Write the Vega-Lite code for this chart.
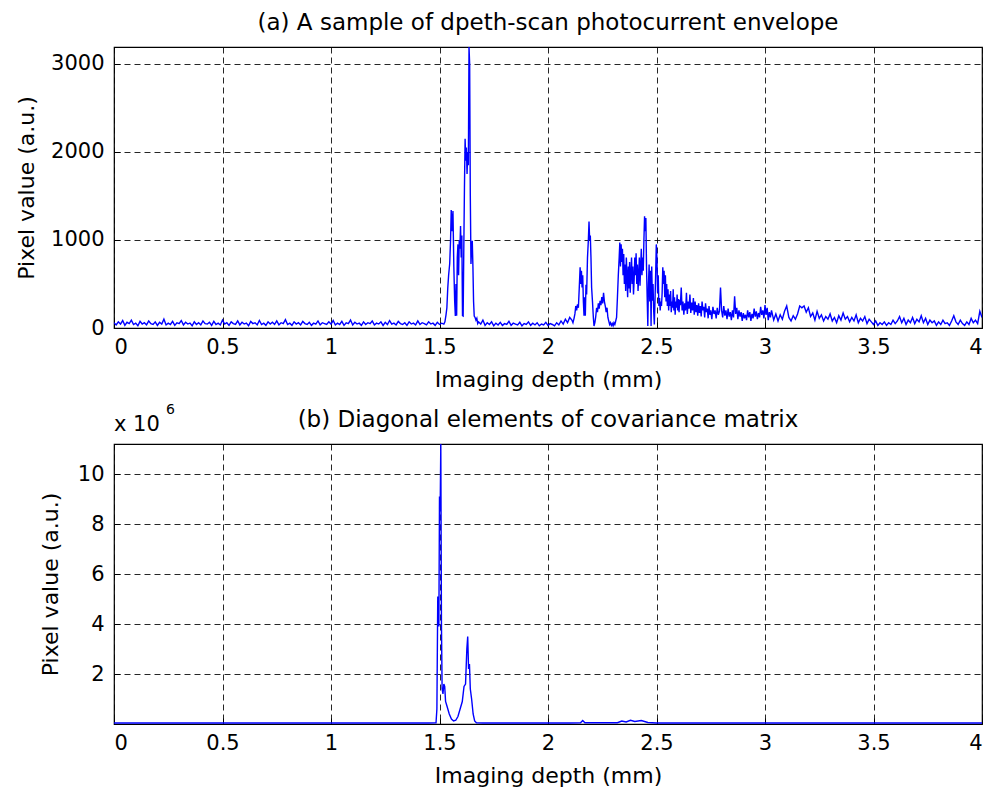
{
 "$schema": "https://vega.github.io/schema/vega-lite/v6.json",
 "padding": {"left": 14, "top": 11, "right": 5, "bottom": 5},
 "background": "white",
 "config": {
  "font": "DejaVu Sans",
  "view": {"stroke": "#000", "strokeWidth": 1.2},
  "axis": {
   "grid": true, "gridColor": "#000", "gridDash": [6, 4], "gridWidth": 1, "gridOpacity": 0.85,
   "ticks": true, "tickSize": -6, "tickColor": "#000", "tickWidth": 1, "domain": false,
   "labelFontSize": 21, "labelColor": "#000", "labelPadding": 16, "labelFont": "DejaVu Sans",
   "titleFontSize": 22, "titleFontWeight": "normal", "titleColor": "#000", "titlePadding": 9, "titleFont": "DejaVu Sans"
  },
  "title": {"fontSize": 23, "fontWeight": "normal", "color": "#000", "font": "DejaVu Sans", "offset": 12, "frame": "group"}
 },
 "spacing": 11,
 "datasets": {
  "env": [
   {"depth":0.00,"value":60},{"depth":0.01,"value":35},{"depth":0.02,"value":70},{"depth":0.03,"value":45},{"depth":0.04,"value":85},{"depth":0.05,"value":30},{"depth":0.06,"value":65},{"depth":0.07,"value":50},{"depth":0.08,"value":90},{"depth":0.09,"value":40},
   {"depth":0.10,"value":55},{"depth":0.11,"value":25},{"depth":0.12,"value":75},{"depth":0.13,"value":45},{"depth":0.14,"value":60},{"depth":0.15,"value":35},{"depth":0.16,"value":80},{"depth":0.17,"value":50},{"depth":0.18,"value":40},{"depth":0.19,"value":70},
   {"depth":0.20,"value":30},{"depth":0.21,"value":65},{"depth":0.22,"value":45},{"depth":0.23,"value":100},{"depth":0.24,"value":35},{"depth":0.25,"value":55},{"depth":0.26,"value":40},{"depth":0.27,"value":75},{"depth":0.28,"value":30},{"depth":0.29,"value":60},
   {"depth":0.30,"value":50},{"depth":0.31,"value":85},{"depth":0.32,"value":35},{"depth":0.33,"value":65},{"depth":0.34,"value":45},{"depth":0.35,"value":55},{"depth":0.36,"value":25},{"depth":0.37,"value":70},{"depth":0.38,"value":40},{"depth":0.39,"value":60},
   {"depth":0.40,"value":35},{"depth":0.41,"value":80},{"depth":0.42,"value":50},{"depth":0.43,"value":45},{"depth":0.44,"value":65},{"depth":0.45,"value":30},{"depth":0.46,"value":75},{"depth":0.47,"value":40},{"depth":0.48,"value":55},{"depth":0.49,"value":35},
   {"depth":0.50,"value":90},{"depth":0.51,"value":45},{"depth":0.52,"value":60},{"depth":0.53,"value":30},{"depth":0.54,"value":70},{"depth":0.55,"value":50},{"depth":0.56,"value":40},{"depth":0.57,"value":80},{"depth":0.58,"value":35},{"depth":0.59,"value":65},
   {"depth":0.60,"value":45},{"depth":0.61,"value":55},{"depth":0.62,"value":25},{"depth":0.63,"value":75},{"depth":0.64,"value":50},{"depth":0.65,"value":60},{"depth":0.66,"value":35},{"depth":0.67,"value":85},{"depth":0.68,"value":40},{"depth":0.69,"value":55},
   {"depth":0.70,"value":30},{"depth":0.71,"value":70},{"depth":0.72,"value":45},{"depth":0.73,"value":65},{"depth":0.74,"value":40},{"depth":0.75,"value":80},{"depth":0.76,"value":35},{"depth":0.77,"value":60},{"depth":0.78,"value":50},{"depth":0.79,"value":95},
   {"depth":0.80,"value":40},{"depth":0.81,"value":55},{"depth":0.82,"value":30},{"depth":0.83,"value":70},{"depth":0.84,"value":45},{"depth":0.85,"value":60},{"depth":0.86,"value":35},{"depth":0.87,"value":75},{"depth":0.88,"value":50},{"depth":0.89,"value":40},
   {"depth":0.90,"value":65},{"depth":0.91,"value":30},{"depth":0.92,"value":55},{"depth":0.93,"value":45},{"depth":0.94,"value":80},{"depth":0.95,"value":35},{"depth":0.96,"value":60},{"depth":0.97,"value":50},{"depth":0.98,"value":40},{"depth":0.99,"value":70},
   {"depth":1.00,"value":45},{"depth":1.01,"value":85},{"depth":1.02,"value":35},{"depth":1.03,"value":55},{"depth":1.04,"value":40},{"depth":1.05,"value":75},{"depth":1.06,"value":30},{"depth":1.07,"value":60},{"depth":1.08,"value":50},{"depth":1.09,"value":90},
   {"depth":1.10,"value":35},{"depth":1.11,"value":65},{"depth":1.12,"value":45},{"depth":1.13,"value":55},{"depth":1.14,"value":30},{"depth":1.15,"value":70},{"depth":1.16,"value":40},{"depth":1.17,"value":60},{"depth":1.18,"value":50},{"depth":1.19,"value":80},
   {"depth":1.20,"value":35},{"depth":1.21,"value":55},{"depth":1.22,"value":45},{"depth":1.23,"value":70},{"depth":1.24,"value":30},{"depth":1.25,"value":65},{"depth":1.26,"value":40},{"depth":1.27,"value":85},{"depth":1.28,"value":45},{"depth":1.29,"value":55},
   {"depth":1.30,"value":35},{"depth":1.31,"value":75},{"depth":1.32,"value":50},{"depth":1.33,"value":40},{"depth":1.34,"value":60},{"depth":1.35,"value":30},{"depth":1.36,"value":70},{"depth":1.37,"value":45},{"depth":1.38,"value":55},{"depth":1.39,"value":35},
   {"depth":1.40,"value":80},{"depth":1.41,"value":40},{"depth":1.42,"value":60},{"depth":1.43,"value":50},{"depth":1.44,"value":35},{"depth":1.45,"value":70},{"depth":1.46,"value":45},{"depth":1.47,"value":55},{"depth":1.48,"value":30},{"depth":1.49,"value":65},
   {"depth":1.50,"value":40},{"depth":1.51,"value":55},{"depth":1.52,"value":45},
   {"depth":1.525,"value":70},{"depth":1.530,"value":150},{"depth":1.534,"value":230},{"depth":1.538,"value":450},{"depth":1.542,"value":600},{"depth":1.547,"value":730},{"depth":1.551,"value":1000},{"depth":1.554,"value":1340},{"depth":1.558,"value":1100},{"depth":1.562,"value":1330},
   {"depth":1.566,"value":700},{"depth":1.570,"value":300},{"depth":1.573,"value":136},{"depth":1.576,"value":500},{"depth":1.579,"value":140},{"depth":1.582,"value":800},{"depth":1.585,"value":950},{"depth":1.588,"value":600},{"depth":1.591,"value":1000},{"depth":1.594,"value":900},
   {"depth":1.597,"value":1160},{"depth":1.600,"value":800},{"depth":1.603,"value":1050},{"depth":1.606,"value":140},{"depth":1.609,"value":136},{"depth":1.612,"value":900},{"depth":1.615,"value":1600},{"depth":1.618,"value":2150},{"depth":1.621,"value":1900},{"depth":1.624,"value":2050},
   {"depth":1.627,"value":1750},{"depth":1.630,"value":2000},{"depth":1.633,"value":1850},{"depth":1.636,"value":3193},{"depth":1.639,"value":3000},{"depth":1.642,"value":1500},{"depth":1.645,"value":727},{"depth":1.648,"value":900},{"depth":1.651,"value":990},{"depth":1.654,"value":700},
   {"depth":1.657,"value":300},{"depth":1.660,"value":136},{"depth":1.664,"value":120},{"depth":1.668,"value":90},{"depth":1.672,"value":110},{"depth":1.676,"value":50},{"depth":1.680,"value":70},
   {"depth":1.69,"value":45},{"depth":1.70,"value":90},{"depth":1.71,"value":30},{"depth":1.72,"value":60},{"depth":1.73,"value":40},{"depth":1.74,"value":70},{"depth":1.75,"value":25},{"depth":1.76,"value":55},{"depth":1.77,"value":35},{"depth":1.78,"value":65},
   {"depth":1.79,"value":30},{"depth":1.80,"value":50},{"depth":1.81,"value":40},{"depth":1.82,"value":75},{"depth":1.83,"value":30},{"depth":1.84,"value":55},{"depth":1.85,"value":45},{"depth":1.86,"value":35},{"depth":1.87,"value":65},{"depth":1.88,"value":25},
   {"depth":1.89,"value":50},{"depth":1.90,"value":40},{"depth":1.91,"value":70},{"depth":1.92,"value":30},{"depth":1.93,"value":55},{"depth":1.94,"value":35},{"depth":1.95,"value":60},{"depth":1.96,"value":25},{"depth":1.97,"value":45},{"depth":1.98,"value":35},
   {"depth":1.99,"value":65},{"depth":2.00,"value":30},{"depth":2.01,"value":50},{"depth":2.02,"value":40},{"depth":2.03,"value":25},{"depth":2.04,"value":60},{"depth":2.05,"value":35},{"depth":2.06,"value":80},{"depth":2.07,"value":45},{"depth":2.08,"value":100},
   {"depth":2.09,"value":60},{"depth":2.10,"value":120},{"depth":2.11,"value":90},
   {"depth":2.115,"value":60},{"depth":2.120,"value":110},{"depth":2.124,"value":160},{"depth":2.128,"value":250},{"depth":2.132,"value":200},{"depth":2.136,"value":270},{"depth":2.140,"value":230},{"depth":2.144,"value":450},{"depth":2.148,"value":690},{"depth":2.151,"value":500},
   {"depth":2.154,"value":650},{"depth":2.157,"value":460},{"depth":2.160,"value":600},{"depth":2.163,"value":300},{"depth":2.166,"value":140},{"depth":2.169,"value":350},{"depth":2.172,"value":140},{"depth":2.175,"value":490},{"depth":2.178,"value":380},{"depth":2.182,"value":800},
   {"depth":2.186,"value":1000},{"depth":2.189,"value":1210},{"depth":2.192,"value":1000},{"depth":2.195,"value":1050},{"depth":2.198,"value":800},{"depth":2.201,"value":460},{"depth":2.205,"value":300},{"depth":2.209,"value":120},{"depth":2.212,"value":22},{"depth":2.216,"value":60},
   {"depth":2.220,"value":130},{"depth":2.224,"value":230},{"depth":2.228,"value":180},{"depth":2.232,"value":280},{"depth":2.236,"value":220},{"depth":2.240,"value":310},{"depth":2.244,"value":260},{"depth":2.248,"value":350},{"depth":2.252,"value":280},{"depth":2.256,"value":400},
   {"depth":2.260,"value":300},{"depth":2.264,"value":250},{"depth":2.268,"value":180},{"depth":2.272,"value":230},{"depth":2.276,"value":120},{"depth":2.280,"value":80},{"depth":2.284,"value":40},{"depth":2.288,"value":60},{"depth":2.292,"value":30},{"depth":2.296,"value":50},
   {"depth":2.300,"value":25},{"depth":2.304,"value":60},{"depth":2.308,"value":40},{"depth":2.312,"value":80},{"depth":2.316,"value":120},{"depth":2.320,"value":350},{"depth":2.324,"value":600},{"depth":2.328,"value":800},{"depth":2.331,"value":970},{"depth":2.334,"value":700},
   {"depth":2.337,"value":950},{"depth":2.340,"value":750},{"depth":2.343,"value":900},{"depth":2.346,"value":600},{"depth":2.349,"value":840},{"depth":2.352,"value":500},{"depth":2.355,"value":720},{"depth":2.358,"value":420},{"depth":2.361,"value":800},{"depth":2.364,"value":600},
   {"depth":2.367,"value":350},{"depth":2.370,"value":700},{"depth":2.373,"value":450},{"depth":2.376,"value":750},{"depth":2.379,"value":400},{"depth":2.382,"value":620},{"depth":2.385,"value":800},{"depth":2.388,"value":500},{"depth":2.391,"value":700},{"depth":2.394,"value":380},
   {"depth":2.397,"value":550},{"depth":2.400,"value":800},{"depth":2.403,"value":600},{"depth":2.406,"value":850},{"depth":2.409,"value":500},{"depth":2.412,"value":720},{"depth":2.415,"value":420},{"depth":2.418,"value":600},{"depth":2.421,"value":800},{"depth":2.424,"value":480},
   {"depth":2.427,"value":700},{"depth":2.430,"value":900},{"depth":2.433,"value":600},{"depth":2.436,"value":800},{"depth":2.439,"value":650},{"depth":2.442,"value":1000},{"depth":2.445,"value":1270},{"depth":2.448,"value":1100},{"depth":2.451,"value":1250},{"depth":2.454,"value":700},
   {"depth":2.457,"value":350},{"depth":2.460,"value":22},{"depth":2.463,"value":500},{"depth":2.466,"value":720},{"depth":2.469,"value":300},{"depth":2.472,"value":650},{"depth":2.475,"value":22},{"depth":2.478,"value":700},{"depth":2.481,"value":310},{"depth":2.484,"value":500},
   {"depth":2.487,"value":200},{"depth":2.490,"value":40},{"depth":2.493,"value":300},{"depth":2.496,"value":600},{"depth":2.499,"value":950},{"depth":2.502,"value":800},{"depth":2.505,"value":400},{"depth":2.508,"value":600},{"depth":2.511,"value":250},{"depth":2.514,"value":340},
   {"depth":2.517,"value":200},{"depth":2.520,"value":300},{"depth":2.523,"value":250},{"depth":2.526,"value":400},{"depth":2.529,"value":690},{"depth":2.532,"value":500},{"depth":2.535,"value":650},{"depth":2.538,"value":350},{"depth":2.541,"value":600},{"depth":2.544,"value":300},
   {"depth":2.547,"value":500},{"depth":2.550,"value":250},{"depth":2.553,"value":440},{"depth":2.556,"value":200},{"depth":2.559,"value":380},{"depth":2.562,"value":250},{"depth":2.565,"value":420},{"depth":2.568,"value":180},{"depth":2.571,"value":300},{"depth":2.574,"value":230},
   {"depth":2.577,"value":440},{"depth":2.580,"value":200},{"depth":2.583,"value":350},{"depth":2.586,"value":150},{"depth":2.589,"value":300},{"depth":2.592,"value":230},{"depth":2.595,"value":380},{"depth":2.598,"value":200},{"depth":2.601,"value":330},{"depth":2.604,"value":180},
   {"depth":2.607,"value":320},{"depth":2.610,"value":260},{"depth":2.614,"value":460},{"depth":2.618,"value":200},{"depth":2.622,"value":300},{"depth":2.626,"value":150},{"depth":2.630,"value":280},{"depth":2.634,"value":200},{"depth":2.638,"value":400},{"depth":2.642,"value":160},
   {"depth":2.646,"value":300},{"depth":2.650,"value":220},{"depth":2.654,"value":380},{"depth":2.658,"value":170},{"depth":2.662,"value":290},{"depth":2.666,"value":200},{"depth":2.670,"value":340},{"depth":2.674,"value":150},{"depth":2.678,"value":300},{"depth":2.682,"value":180},
   {"depth":2.686,"value":260},{"depth":2.690,"value":140},{"depth":2.694,"value":280},{"depth":2.698,"value":170},{"depth":2.702,"value":250},{"depth":2.706,"value":130},{"depth":2.710,"value":300},{"depth":2.714,"value":200},{"depth":2.718,"value":240},{"depth":2.722,"value":120},
   {"depth":2.726,"value":280},{"depth":2.730,"value":180},{"depth":2.734,"value":220},{"depth":2.738,"value":110},{"depth":2.742,"value":250},{"depth":2.746,"value":150},{"depth":2.750,"value":200},{"depth":2.755,"value":100},{"depth":2.760,"value":240},{"depth":2.765,"value":160},
   {"depth":2.770,"value":200},{"depth":2.775,"value":110},{"depth":2.780,"value":230},{"depth":2.785,"value":150},{"depth":2.790,"value":190},{"depth":2.795,"value":460},{"depth":2.800,"value":200},{"depth":2.805,"value":120},{"depth":2.810,"value":250},{"depth":2.815,"value":140},
   {"depth":2.820,"value":200},{"depth":2.825,"value":100},{"depth":2.830,"value":220},{"depth":2.835,"value":130},{"depth":2.840,"value":180},{"depth":2.845,"value":90},{"depth":2.850,"value":200},{"depth":2.855,"value":120},{"depth":2.860,"value":360},{"depth":2.865,"value":160},
   {"depth":2.870,"value":230},{"depth":2.875,"value":100},{"depth":2.880,"value":200},{"depth":2.885,"value":130},{"depth":2.890,"value":180},{"depth":2.895,"value":80},{"depth":2.900,"value":170},{"depth":2.905,"value":110},{"depth":2.910,"value":150},{"depth":2.915,"value":90},
   {"depth":2.920,"value":200},{"depth":2.925,"value":120},{"depth":2.930,"value":180},{"depth":2.935,"value":80},{"depth":2.940,"value":160},{"depth":2.945,"value":110},{"depth":2.950,"value":220},{"depth":2.955,"value":130},{"depth":2.960,"value":190},{"depth":2.965,"value":100},
   {"depth":2.970,"value":170},{"depth":2.975,"value":120},{"depth":2.980,"value":240},{"depth":2.985,"value":150},{"depth":2.990,"value":200},{"depth":2.995,"value":110},{"depth":3.000,"value":260},{"depth":3.005,"value":150},{"depth":3.010,"value":230},{"depth":3.015,"value":90},
   {"depth":3.020,"value":180},{"depth":3.025,"value":120},{"depth":3.030,"value":200},{"depth":3.040,"value":90},{"depth":3.050,"value":160},{"depth":3.060,"value":80},{"depth":3.070,"value":150},{"depth":3.080,"value":100},{"depth":3.090,"value":190},{"depth":3.100,"value":250},
   {"depth":3.110,"value":120},{"depth":3.120,"value":80},{"depth":3.130,"value":140},{"depth":3.140,"value":100},{"depth":3.150,"value":160},{"depth":3.160,"value":250},{"depth":3.170,"value":230},{"depth":3.180,"value":250},{"depth":3.190,"value":180},{"depth":3.200,"value":230},
   {"depth":3.210,"value":130},{"depth":3.220,"value":170},{"depth":3.230,"value":90},{"depth":3.240,"value":190},{"depth":3.250,"value":110},{"depth":3.260,"value":150},{"depth":3.270,"value":80},{"depth":3.280,"value":130},{"depth":3.290,"value":100},{"depth":3.300,"value":160},
   {"depth":3.310,"value":80},{"depth":3.320,"value":120},{"depth":3.330,"value":60},{"depth":3.340,"value":140},{"depth":3.350,"value":90},{"depth":3.360,"value":170},{"depth":3.370,"value":100},{"depth":3.380,"value":130},{"depth":3.390,"value":70},{"depth":3.400,"value":120},
   {"depth":3.410,"value":80},{"depth":3.420,"value":150},{"depth":3.430,"value":60},{"depth":3.440,"value":110},{"depth":3.450,"value":80},{"depth":3.460,"value":130},{"depth":3.470,"value":50},{"depth":3.480,"value":100},{"depth":3.490,"value":70},{"depth":3.500,"value":40},
   {"depth":3.510,"value":80},{"depth":3.520,"value":30},{"depth":3.530,"value":60},{"depth":3.540,"value":40},{"depth":3.550,"value":70},{"depth":3.560,"value":30},{"depth":3.570,"value":60},{"depth":3.580,"value":40},{"depth":3.590,"value":90},{"depth":3.600,"value":50},
   {"depth":3.610,"value":80},{"depth":3.620,"value":130},{"depth":3.630,"value":60},{"depth":3.640,"value":110},{"depth":3.650,"value":40},{"depth":3.660,"value":90},{"depth":3.670,"value":60},{"depth":3.680,"value":120},{"depth":3.690,"value":50},{"depth":3.700,"value":100},
   {"depth":3.710,"value":70},{"depth":3.720,"value":140},{"depth":3.730,"value":60},{"depth":3.740,"value":110},{"depth":3.750,"value":40},{"depth":3.760,"value":90},{"depth":3.770,"value":60},{"depth":3.780,"value":80},{"depth":3.790,"value":30},{"depth":3.800,"value":70},
   {"depth":3.810,"value":40},{"depth":3.820,"value":90},{"depth":3.830,"value":50},{"depth":3.840,"value":60},{"depth":3.850,"value":30},{"depth":3.860,"value":80},{"depth":3.870,"value":140},{"depth":3.880,"value":70},{"depth":3.890,"value":40},{"depth":3.900,"value":90},
   {"depth":3.910,"value":50},{"depth":3.920,"value":30},{"depth":3.930,"value":70},{"depth":3.940,"value":40},{"depth":3.950,"value":110},{"depth":3.960,"value":60},{"depth":3.970,"value":90},{"depth":3.980,"value":50},{"depth":3.990,"value":190},{"depth":4.000,"value":120}
  ],
  "cov": [
   {"depth":0.0,"value":0.04},{"depth":0.5,"value":0.04},{"depth":1.0,"value":0.04},{"depth":1.45,"value":0.04},{"depth":1.484,"value":0.05},{"depth":1.488,"value":0.6},{"depth":1.492,"value":5.1},{"depth":1.495,"value":4.8},{"depth":1.497,"value":3.9},{"depth":1.500,"value":9.1},
   {"depth":1.503,"value":8.5},{"depth":1.506,"value":11.2},{"depth":1.509,"value":4.0},{"depth":1.512,"value":1.4},{"depth":1.516,"value":1.2},{"depth":1.520,"value":1.6},{"depth":1.524,"value":1.5},{"depth":1.528,"value":0.9},{"depth":1.535,"value":0.7},{"depth":1.545,"value":0.4},
   {"depth":1.555,"value":0.2},{"depth":1.565,"value":0.12},{"depth":1.575,"value":0.15},{"depth":1.585,"value":0.3},{"depth":1.595,"value":0.6},{"depth":1.605,"value":0.9},{"depth":1.613,"value":1.5},{"depth":1.620,"value":1.6},{"depth":1.626,"value":3.0},{"depth":1.630,"value":3.5},
   {"depth":1.634,"value":2.2},{"depth":1.638,"value":2.4},{"depth":1.642,"value":1.4},{"depth":1.648,"value":1.0},{"depth":1.655,"value":0.4},{"depth":1.662,"value":0.12},{"depth":1.670,"value":0.05},{"depth":1.70,"value":0.04},{"depth":2.10,"value":0.04},{"depth":2.15,"value":0.05},
   {"depth":2.16,"value":0.14},{"depth":2.17,"value":0.05},{"depth":2.32,"value":0.05},{"depth":2.34,"value":0.12},{"depth":2.36,"value":0.08},{"depth":2.38,"value":0.15},{"depth":2.40,"value":0.1},{"depth":2.43,"value":0.14},{"depth":2.46,"value":0.06},{"depth":2.50,"value":0.04},
   {"depth":3.0,"value":0.04},{"depth":4.0,"value":0.04}
  ]
 },
 "vconcat": [
  {
   "width": 868, "height": 281,
   "title": {"text": "(a) A sample of dpeth-scan photocurrent envelope"},
   "data": {"name": "env"},
   "mark": {"type": "line", "color": "#0000ff", "strokeWidth": 1.4, "clip": true},
   "encoding": {
    "x": {"field": "depth", "type": "quantitative", "scale": {"domain": [0, 4], "nice": false},
          "axis": {"values": [0, 0.5, 1, 1.5, 2, 2.5, 3, 3.5, 4], "labelExpr": "'' + datum.value", "title": "Imaging depth (mm)", "labelPadding": 14, "titlePadding": 12}},
    "y": {"field": "value", "type": "quantitative", "scale": {"domain": [0, 3193], "nice": false, "zero": false},
          "axis": {"values": [0, 1000, 2000, 3000], "format": "d", "title": "Pixel value (a.u.)", "titlePadding": 12}}
   }
  },
  {
   "width": 868, "height": 280,
   "title": {"text": "(b) Diagonal elements of covariance matrix", "offset": -29},
   "layer": [
    {
     "data": {"name": "cov"},
     "mark": {"type": "line", "color": "#0000ff", "strokeWidth": 1.4, "clip": true},
     "encoding": {
      "x": {"field": "depth", "type": "quantitative", "scale": {"domain": [0, 4], "nice": false},
            "axis": {"values": [0, 0.5, 1, 1.5, 2, 2.5, 3, 3.5, 4], "labelExpr": "'' + datum.value", "title": "Imaging depth (mm)", "labelPadding": 14, "titlePadding": 12}},
      "y": {"field": "value", "type": "quantitative", "scale": {"domain": [0, 11.2], "nice": false, "zero": false},
            "axis": {"values": [2, 4, 6, 8, 10], "format": "d", "title": "Pixel value (a.u.)", "titlePadding": 15}}
     }
    },
    {
     "data": {"values": [{"depth": 0, "value": 11.2, "label": "x 10"}]},
     "mark": {"type": "text", "align": "left", "baseline": "alphabetic", "dy": -13, "fontSize": 21, "font": "DejaVu Sans", "color": "#000"},
     "encoding": {"x": {"field": "depth", "type": "quantitative"}, "y": {"field": "value", "type": "quantitative"}, "text": {"field": "label"}}
    },
    {
     "data": {"values": [{"depth": 0, "value": 11.2, "label": "6"}]},
     "mark": {"type": "text", "align": "left", "baseline": "alphabetic", "dx": 52, "dy": -30, "fontSize": 14, "font": "DejaVu Sans", "color": "#000"},
     "encoding": {"x": {"field": "depth", "type": "quantitative"}, "y": {"field": "value", "type": "quantitative"}, "text": {"field": "label"}}
    }
   ]
  }
 ]
}
